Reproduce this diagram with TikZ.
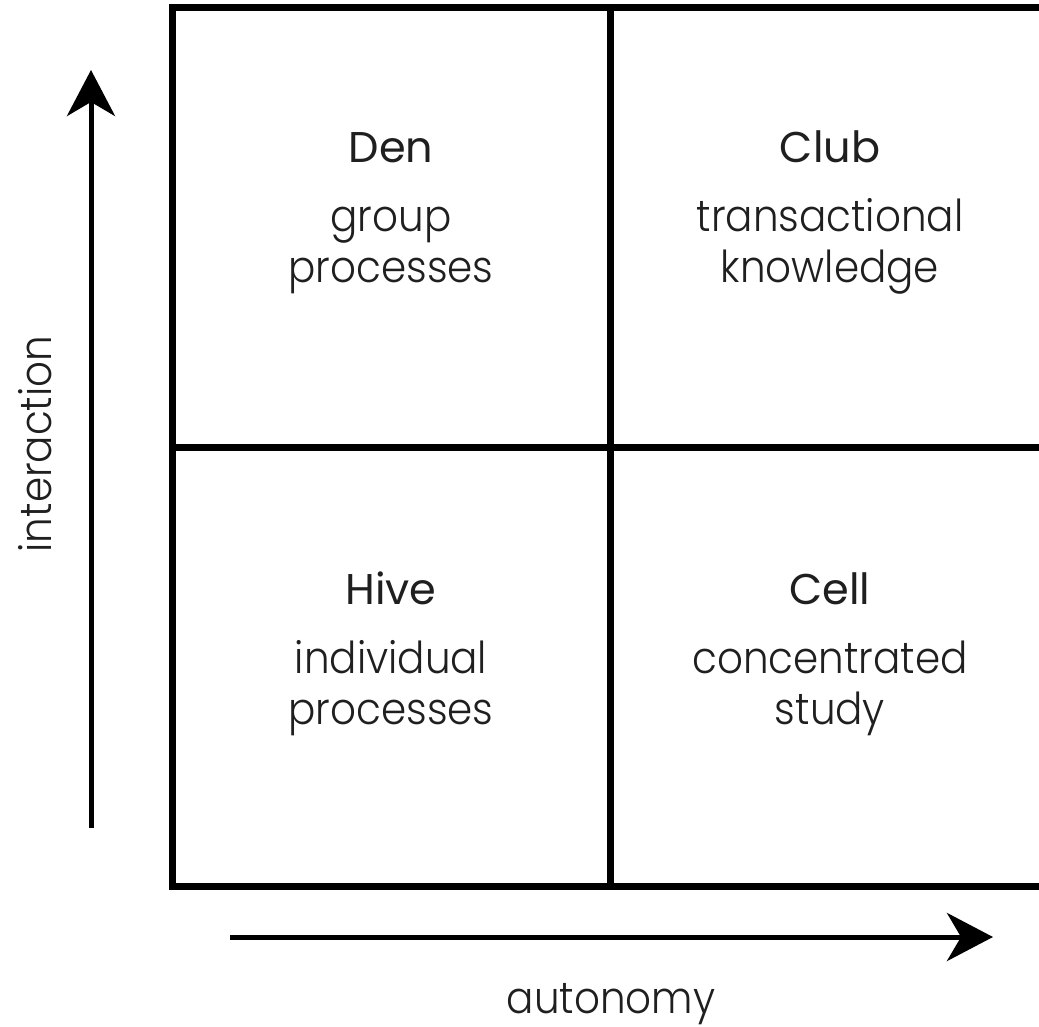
\documentclass[tikz,border=0pt]{standalone}
\usepackage{fontspec}
\setmainfont{Poppins}
\newfontfamily\lightfont[FakeStretch=0.92]{Poppins Light}
\usetikzlibrary{arrows.meta}
\begin{document}
\begin{tikzpicture}[x=1pt,y=-1pt,
  grid/.style={line width=7pt,line cap=rect},
  axis/.style={line width=5pt,-{Stealth[length=46pt,width=48pt,inset=14pt]}},
  title/.style={anchor=base,font=\fontsize{43}{50}\selectfont,text=black!88},
  sub/.style={anchor=base,font=\lightfont\fontsize{44}{50}\selectfont,text=black!88},
  axislabel/.style={font=\lightfont\fontsize{44}{50}\selectfont,text=black!88}]
  \useasboundingbox (0,0) rectangle (1039,1027);
  \clip (0,0) rectangle (1039,1027);
  % quadrant grid
  \coordinate (tl) at (172,8);
  \coordinate (br) at (1060,886);
  \draw[grid] (tl) rectangle (br);
  \draw[grid] (610,8) -- (610,886);
  \draw[grid] (172,447) -- (1060,447);
  % axes
  \coordinate (ybot) at (91,828);
  \coordinate (ytop) at (91,70);
  \coordinate (xleft) at (230,937);
  \coordinate (xright) at (993,937);
  \draw[axis] (ybot) -- (ytop);
  \draw[axis] (xleft) -- (xright);
  \node[axislabel,rotate=90] (ylab) at (35,444) {interaction};
  \node[axislabel,anchor=base] (xlab) at (611,1013) {autonomy};
  % quadrant labels
  \node[title] (den) at (391,163) {Den};
  \node[sub] (den1) at (391,232) {group};
  \node[sub] (den2) at (391,283) {processes};
  \node[title] (club) at (830,163) {Club};
  \node[sub] (club1) at (830,232) {transactional};
  \node[sub] (club2) at (830,283) {knowledge};
  \node[title] (hive) at (391,604) {Hive};
  \node[sub] (hive1) at (391,673) {individual};
  \node[sub] (hive2) at (391,724) {processes};
  \node[title] (cell) at (830,604) {Cell};
  \node[sub] (cell1) at (830,673) {concentrated};
  \node[sub] (cell2) at (830,724) {study};
\end{tikzpicture}
\end{document}
